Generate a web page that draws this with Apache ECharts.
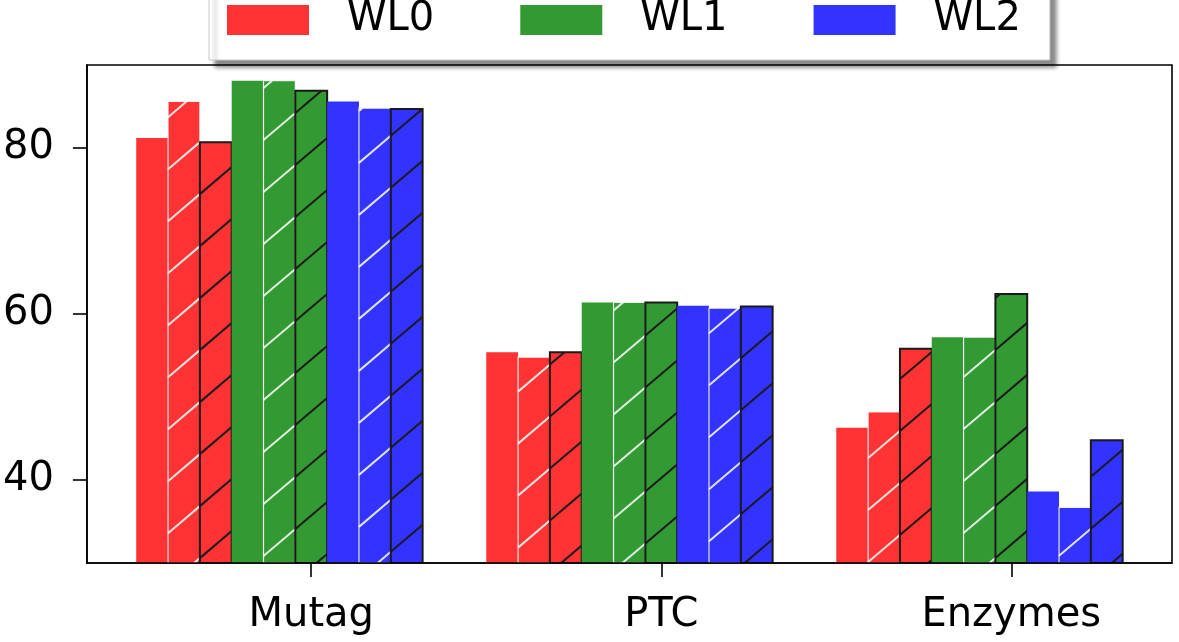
<!DOCTYPE html>
<html>
<head>
<meta charset="utf-8">
<script src="https://cdn.jsdelivr.net/npm/echarts@6/dist/echarts.min.js"></script>
<style>
  html, body { margin: 0; padding: 0; background: #fff; }
  #chart { width: 1179px; height: 642px; }
</style>
</head>
<body>
<div id="chart"></div>
<script>
// ---- data ----
const categories = ['Mutag', 'PTC', 'Enzymes'];
const legendNames = ['WL0', 'WL1', 'WL2'];
const yTicks = [40, 60, 80];
// three variants per WL level: plain, white-hatched, black-hatched
const wl0Plain = [81.2, 55.4, 46.3];
const wl0White = [85.6, 54.8, 48.2];
const wl0Black = [80.7, 55.4, 55.8];
const wl1Plain = [88.1, 61.4, 57.2];
const wl1White = [88.1, 61.4, 57.2];
const wl1Black = [86.9, 61.4, 62.4];
const wl2Plain = [85.6, 61.0, 38.6];
const wl2White = [84.8, 60.7, 36.7];
const wl2Black = [84.7, 60.9, 44.8];

// ---- styling / layout ----
const Y_MIN = 30, Y_MAX = 90;
const BAR_W = 1 / 11;          // bar width in category units
const TICK_SLOT = 5;           // tick sits at the centre of the 6th bar
const FONT = 'DejaVu Sans';
const RED = '#ff3333', GREEN = '#339933', BLUE = '#3333ff';
const HATCH_P = 52, HATCH_T = 0.85;

const seriesDefs = [
  { name: 'WL0', color: RED,   vals: wl0Plain, hatch: null },
  { name: 'WL0', color: RED,   vals: wl0White, hatch: 'white' },
  { name: 'WL0', color: RED,   vals: wl0Black, hatch: 'black' },
  { name: 'WL1', color: GREEN, vals: wl1Plain, hatch: null },
  { name: 'WL1', color: GREEN, vals: wl1White, hatch: 'white' },
  { name: 'WL1', color: GREEN, vals: wl1Black, hatch: 'black' },
  { name: 'WL2', color: BLUE,  vals: wl2Plain, hatch: null },
  { name: 'WL2', color: BLUE,  vals: wl2White, hatch: 'white' },
  { name: 'WL2', color: BLUE,  vals: wl2Black, hatch: 'black' }
];

// x range with matplotlib-style 5% margins around the bars
const loEdge = -(TICK_SLOT + 0.5) * BAR_W;
const hiEdge = (categories.length - 1) + (seriesDefs.length - TICK_SLOT - 0.5) * BAR_W;
const pad = 0.05 * (hiEdge - loEdge);
const X_MIN = loEdge - pad, X_MAX = hiEdge + pad;

function hatchLines(x0, y0, x1, y1, color) {
  const out = [];
  const cMin = y0 + HATCH_T * x0, cMax = y1 + HATCH_T * x1;
  for (let n = Math.floor(cMin / HATCH_P); n <= Math.ceil(cMax / HATCH_P); n++) {
    const c = n * HATCH_P;
    const xa = Math.max(x0, (c - y1) / HATCH_T);
    const xb = Math.min(x1, (c - y0) / HATCH_T);
    if (xb > xa) {
      out.push({
        type: 'line',
        shape: { x1: xa, y1: c - HATCH_T * xa, x2: xb, y2: c - HATCH_T * xb },
        style: { stroke: color, lineWidth: 2 },
        silent: true
      });
    }
  }
  return out;
}

function makeRender(slot, def) {
  return function (params, api) {
    const g = api.value(0), v = api.value(1);
    const xc = g + (slot - TICK_SLOT) * BAR_W;
    const tl = api.coord([xc - BAR_W / 2, v]);
    const br = api.coord([xc + BAR_W / 2, Y_MIN]);
    const x0 = tl[0], y0 = tl[1], x1 = br[0], y1 = br[1];
    const children = [{
      type: 'rect',
      shape: { x: x0, y: y0, width: x1 - x0, height: y1 - y0 },
      style: { fill: def.color }
    }];
    if (def.hatch === 'white') {
      children.push(...hatchLines(x0, y0, x1, y1, 'rgba(255,255,255,0.85)'));
      children.push({
        type: 'rect',
        shape: { x: x0, y: y0, width: x1 - x0, height: y1 - y0 },
        style: { fill: null, stroke: 'rgba(255,255,255,0.85)', lineWidth: 1.2 }
      });
    } else if (def.hatch === 'black') {
      children.push(...hatchLines(x0, y0, x1, y1, '#1a1a1a'));
      children.push({
        type: 'rect',
        shape: { x: x0, y: y0, width: x1 - x0, height: y1 - y0 },
        style: { fill: null, stroke: '#1a1a1a', lineWidth: 2 }
      });
    }
    return { type: 'group', children: children };
  };
}

const series = seriesDefs.map((def, slot) => ({
  type: 'custom',
  name: def.name,
  itemStyle: { color: def.color },
  clip: true,
  renderItem: makeRender(slot, def),
  encode: { x: 0, y: 1 },
  data: categories.map((c, i) => [i, def.vals[i]])
}));

const chart = echarts.init(document.getElementById('chart'), null, { renderer: 'canvas' });
chart.setOption({
  animation: false,
  backgroundColor: '#fff',
  textStyle: { fontFamily: FONT },
  grid: {
    left: 85, right: 7, top: 65, bottom: 79,
    show: true, borderColor: '#000', borderWidth: 1.6, backgroundColor: 'transparent'
  },
  legend: {
    data: legendNames.map((n, i) => ({ name: n, itemStyle: { color: [RED, GREEN, BLUE][i] } })),
    icon: 'rect',
    left: 209,
    top: -20,
    padding: [20, 29, 20, 18],
    itemWidth: 82,
    itemHeight: 30,
    itemGap: 86,
    selectedMode: false,
    backgroundColor: '#fff',
    borderColor: '#c8c8c8',
    borderWidth: 1,
    shadowColor: 'rgba(0,0,0,0.45)',
    shadowBlur: 4,
    shadowOffsetX: 6,
    shadowOffsetY: 7,
    textStyle: {
      fontFamily: FONT, fontSize: 40, color: '#000',
      lineHeight: 40, padding: [0, 0, 0, 33]
    }
  },
  xAxis: {
    type: 'value',
    min: X_MIN, max: X_MAX,
    z: 5,
    splitLine: { show: false },
    axisLine: { show: true, onZero: false, lineStyle: { color: '#000', width: 1.6 } },
    axisTick: {
      show: true, length: 14, inside: false,
      customValues: categories.map((c, i) => i),
      lineStyle: { color: '#000', width: 1.6 }
    },
    axisLabel: {
      show: true,
      customValues: categories.map((c, i) => i),
      formatter: v => categories[Math.round(v)] || '',
      fontFamily: FONT, fontSize: 40, color: '#000', margin: 33
    }
  },
  yAxis: {
    type: 'value',
    min: Y_MIN, max: Y_MAX,
    z: 5,
    splitLine: { show: false },
    axisLine: { show: true, onZero: false, lineStyle: { color: '#000', width: 1.6 } },
    axisTick: {
      show: true, length: 14, inside: false,
      customValues: yTicks,
      lineStyle: { color: '#000', width: 1.6 }
    },
    axisLabel: {
      show: true,
      customValues: yTicks,
      fontFamily: FONT, fontSize: 40, color: '#000', margin: 33
    }
  },
  series: series
});
</script>
</body>
</html>
